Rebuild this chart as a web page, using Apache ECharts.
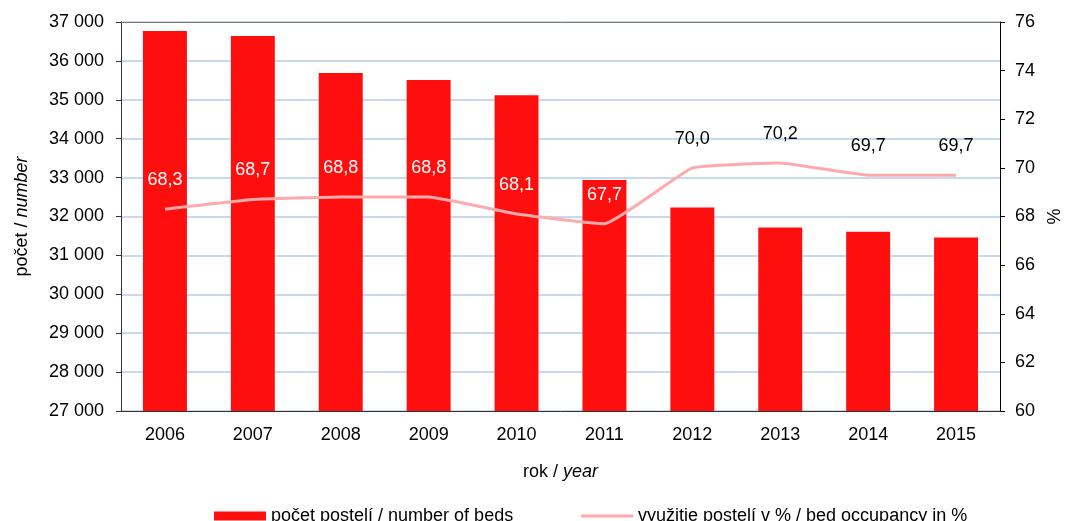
<!DOCTYPE html>
<html>
<head>
<meta charset="utf-8">
<script src="https://cdn.jsdelivr.net/npm/echarts@6/dist/echarts.min.js"></script>
<style>
  html, body { margin: 0; padding: 0; background: #fff; overflow: hidden; }
  #chart { width: 100vw; height: 100vh; }
</style>
</head>
<body>
<div id="chart"></div>
<script>
// roky / years
const years = ['2006', '2007', '2008', '2009', '2010', '2011', '2012', '2013', '2014', '2015']
// počet postelí / number of beds
const beds = [36770, 36640, 35690, 35510, 35120, 32940, 32230, 31720, 31610, 31460]
// využitie postelí v % / bed occupancy in %
const occupancy = [68.3, 68.7, 68.8, 68.8, 68.1, 67.7, 70.0, 70.2, 69.7, 69.7]
// labels drawn inside the bars are white, the rest black
const whiteLabel = [true, true, true, true, true, true, false, false, false, false]

const font = 'Liberation Sans, Arial, sans-serif'
const fs = 18
const chart = echarts.init(document.getElementById('chart'))

const option = {
  animation: false,
  textStyle: { fontFamily: font, color: '#000' },
  grid: { left: 121, right: 65, top: 22, bottom: 110, outerBoundsMode: 'none' },
  legend: [
    {
      data: ['počet postelí / number of beds'],
      left: 214,
      top: 507,
      padding: 0,
      itemWidth: 52,
      itemHeight: 9,
      itemGap: 5,
      icon: 'rect',
      textStyle: { fontFamily: font, fontSize: fs, color: '#000' }
    },
    {
      data: [{ name: 'využitie postelí v % / bed occupancy in %', itemStyle: { color: '#ffaaaa' } }],
      left: 581,
      top: 507,
      padding: 0,
      itemWidth: 52,
      itemHeight: 3,
      icon: 'rect',
      textStyle: { fontFamily: font, fontSize: fs, color: '#000' }
    }
  ],
  xAxis: [
    {
      type: 'category',
      data: years,
      name: '{n|rok / }{i|year}',
      nameLocation: 'middle',
      nameGap: 52,
      nameTextStyle: {
        rich: {
          n: { fontFamily: font, fontSize: fs, color: '#000' },
          i: { fontFamily: font, fontSize: fs, color: '#000', fontStyle: 'italic' }
        }
      },
      axisLine: { lineStyle: { color: '#333', width: 1 } },
      axisTick: { length: 5, lineStyle: { color: '#333' } },
      axisLabel: { fontSize: fs, color: '#000', margin: 15 },
      z: 5
    },
    {
      // horní okraj / top border of the plot area
      type: 'category',
      data: years,
      position: 'top',
      axisLine: { lineStyle: { color: '#777', width: 1 } },
      axisTick: { show: false },
      axisLabel: { show: false }
    }
  ],
  yAxis: [
    {
      type: 'value',
      min: 27000,
      max: 37000,
      interval: 1000,
      name: '{n|počet / }{i|number}',
      nameLocation: 'middle',
      nameGap: 90,
      nameTextStyle: {
        rich: {
          n: { fontFamily: font, fontSize: fs, color: '#000' },
          i: { fontFamily: font, fontSize: fs, color: '#000', fontStyle: 'italic' }
        }
      },
      axisLine: { show: true, lineStyle: { color: '#333' } },
      axisTick: { show: true, length: 5, lineStyle: { color: '#333' } },
      axisLabel: {
        fontSize: fs,
        color: '#000',
        margin: 17,
        formatter: v => String(v).replace(/\B(?=(\d{3})+(?!\d))/g, ' ')
      },
      splitLine: { lineStyle: { color: '#c6d9f0', width: 2 } }
    },
    {
      type: 'value',
      min: 60,
      max: 76,
      interval: 2,
      name: '%',
      nameLocation: 'middle',
      nameGap: 46,
      nameTextStyle: { fontFamily: font, fontSize: fs, color: '#000' },
      axisLine: { show: true, lineStyle: { color: '#000' } },
      axisTick: { show: true, length: 5, lineStyle: { color: '#000' } },
      axisLabel: { fontSize: fs, color: '#000', margin: 15 },
      splitLine: { show: false }
    }
  ],
  series: [
    {
      name: 'počet postelí / number of beds',
      type: 'bar',
      data: beds,
      barWidth: '50%',
      itemStyle: { color: '#ff0e0e' }
    },
    {
      name: 'využitie postelí v % / bed occupancy in %',
      type: 'line',
      yAxisIndex: 1,
      symbol: 'circle',
      symbolSize: 0,
      showSymbol: true,
      smooth: 0.1,
      data: occupancy.map((v, i) => ({
        value: v,
        label: { show: true, color: whiteLabel[i] ? '#fff' : '#000' }
      })),
      lineStyle: { color: '#ffaaaa', width: 3 },
      itemStyle: { color: '#ffaaaa' },
      label: {
        show: true,
        position: 'top',
        distance: 20,
        fontSize: fs,
        fontFamily: font,
        formatter: p => p.value.toFixed(1).replace('.', ',')
      },
      z: 3
    }
  ]
}

chart.setOption(option)
</script>
</body>
</html>
